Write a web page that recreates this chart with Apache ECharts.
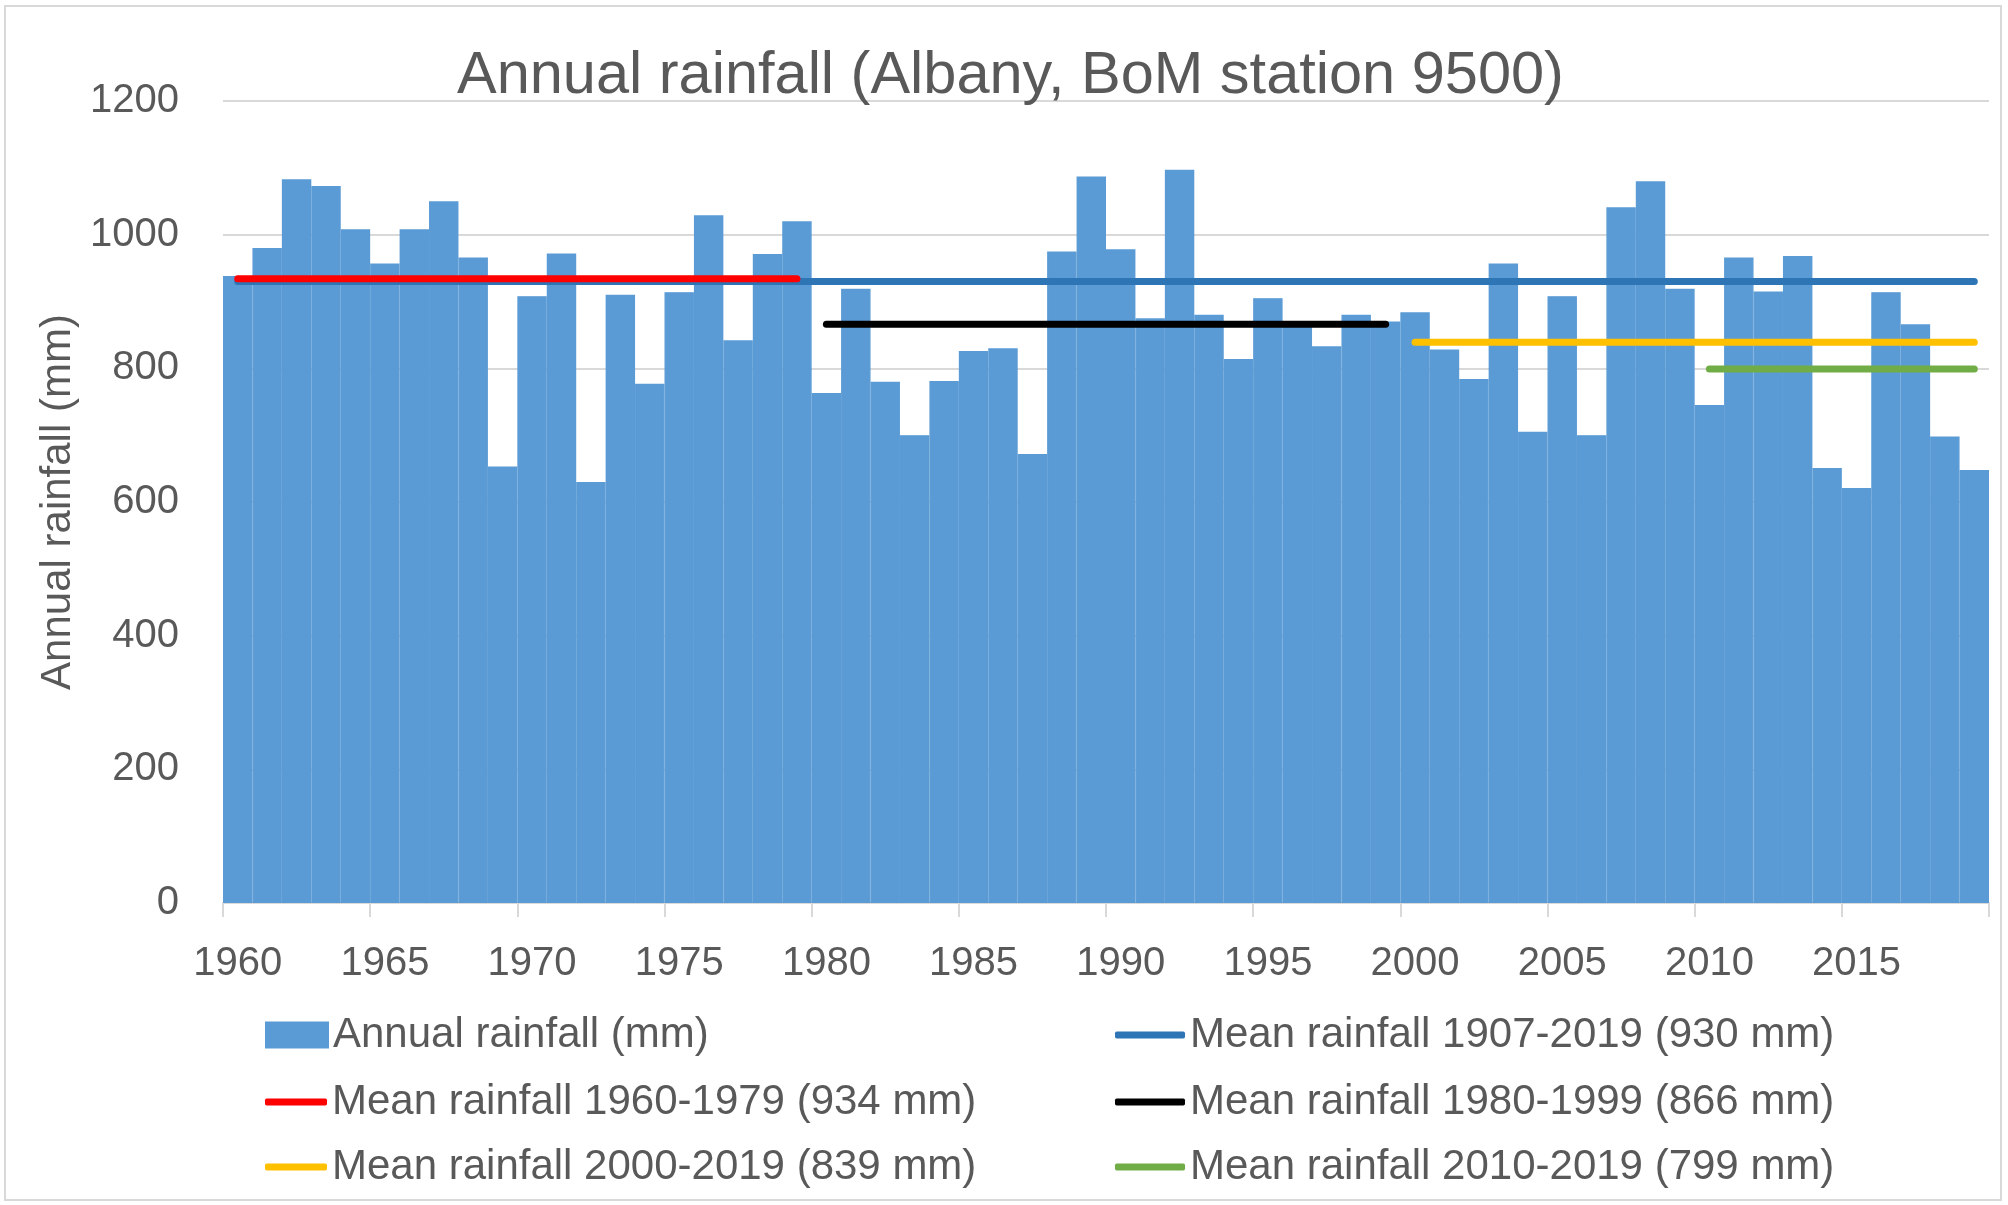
<!DOCTYPE html>
<html>
<head>
<meta charset="utf-8">
<script src="https://cdn.jsdelivr.net/npm/echarts@6/dist/echarts.min.js"></script>
<style>
html,body{margin:0;padding:0;background:#fff;}
#chart{width:2008px;height:1205px;}
</style>
</head>
<body>
<div id="chart"></div>
<script>
const years = [];
for (let y = 1960; y <= 2019; y++) years.push(String(y));

const annualRainfall = [
  938, 980, 1083, 1073, 1008, 957, 1008, 1050, 966, 653,
  908, 972, 630, 910, 777, 914, 1029, 842, 971, 1020,
  763, 919, 780, 700, 781, 826, 830, 672, 975, 1087,
  978, 875, 1097, 880, 814, 905, 869, 833, 880, 870,
  884, 828, 784, 957, 705, 908, 700, 1041, 1080, 919,
  745, 966, 915, 968, 651, 621, 914, 866, 698, 648
];

const yTicks = [0, 200, 400, 600, 800, 1000, 1200];

const meanNames = [
  'Mean rainfall 1907-2019 (930 mm)',
  'Mean rainfall 1960-1979 (934 mm)',
  'Mean rainfall 1980-1999 (866 mm)',
  'Mean rainfall 2000-2019 (839 mm)',
  'Mean rainfall 2010-2019 (799 mm)'
];
const meanValues = [930, 934, 866, 839, 799];
const meanStart = ['1960', '1960', '1980', '2000', '2010'];
const meanEnd = ['2019', '1979', '1999', '2019', '2019'];
const meanColors = ['#2E75B6', '#FF0000', '#000000', '#FFC000', '#70AD47'];

const barName = 'Annual rainfall (mm)';
const FONT = 'Liberation Sans';
const TXT = '#595959';

const chart = echarts.init(document.getElementById('chart'));

const series = [{
  name: barName,
  type: 'bar',
  data: annualRainfall,
  barCategoryGap: '0%',
  itemStyle: { color: '#5B9BD5', borderColor: '#5B9BD5', borderWidth: 1.4 },
  z: 1
}];
meanNames.forEach((n, i) => {
  series.push({
    name: n,
    type: 'line',
    data: [[meanStart[i], meanValues[i]], [meanEnd[i], meanValues[i]]],
    symbol: 'none',
    lineStyle: { color: meanColors[i], width: 7, cap: 'round' },
    itemStyle: { color: meanColors[i] },
    z: 3 + i,
    silent: true
  });
});

const legendPos = [
  { name: barName, left: 265, top: 1014, w: 62, h: 25, icon: 'rect' },
  { name: meanNames[0], left: 1115, top: 1014, w: 70, h: 7, icon: 'roundRect' },
  { name: meanNames[1], left: 265, top: 1081, w: 62, h: 7, icon: 'roundRect' },
  { name: meanNames[2], left: 1115, top: 1081, w: 70, h: 7, icon: 'roundRect' },
  { name: meanNames[3], left: 265, top: 1146, w: 62, h: 7, icon: 'roundRect' },
  { name: meanNames[4], left: 1115, top: 1146, w: 70, h: 7, icon: 'roundRect' }
];

const legends = legendPos.map(l => ({
  data: [{ name: l.name, icon: l.icon }],
  left: l.left,
  top: l.top,
  itemWidth: l.w,
  itemHeight: l.h,
  padding: 0,
  selectedMode: false,
  textStyle: { fontFamily: FONT, fontSize: 42, color: TXT, padding: [0, 0, 0, 0] }
}));

chart.setOption({
  animation: false,
  backgroundColor: '#ffffff',
  title: {
    text: 'Annual rainfall (Albany, BoM station 9500)',
    left: 457,
    top: 47,
    padding: 0,
    textStyle: { fontFamily: FONT, fontSize: 59.5, fontWeight: 'normal', color: TXT }
  },
  legend: legends,
  grid: { left: 223, top: 101, width: 1766, height: 802, containLabel: false },
  xAxis: {
    type: 'category',
    data: years,
    boundaryGap: true,
    axisLine: { show: true, lineStyle: { color: '#d9d9d9', width: 2 } },
    axisTick: { show: true, interval: 4, length: 14, lineStyle: { color: '#d9d9d9', width: 2 } },
    axisLabel: { interval: 4, margin: 41, fontFamily: FONT, fontSize: 40, color: TXT },
    splitLine: { show: false }
  },
  yAxis: {
    type: 'value',
    min: yTicks[0],
    max: yTicks[yTicks.length - 1],
    interval: 200,
    name: 'Annual rainfall (mm)',
    nameLocation: 'middle',
    nameGap: 138,
    nameTextStyle: { fontFamily: FONT, fontSize: 42, color: TXT },
    axisLine: { show: false },
    axisTick: { show: false },
    axisLabel: { margin: 44, fontFamily: FONT, fontSize: 40, color: TXT, formatter: v => String(v) },
    splitLine: { show: true, lineStyle: { color: '#d9d9d9', width: 2 } }
  },
  graphic: [{
    type: 'rect',
    shape: { x: 5, y: 6, width: 1996, height: 1194 },
    style: { fill: 'none', stroke: '#d9d9d9', lineWidth: 2 },
    silent: true,
    z: -1
  }],
  series: series
});
</script>
</body>
</html>
